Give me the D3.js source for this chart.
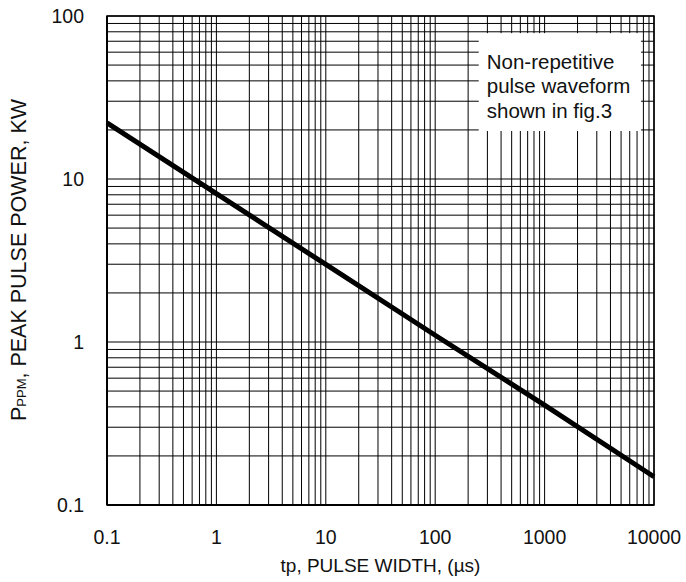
<!DOCTYPE html>
<html>
<head>
<meta charset="utf-8">
<script src="https://cdn.jsdelivr.net/npm/d3@7"></script>
<style>
  body { margin: 0; background: #fff; }
  text { font-family: "Liberation Sans", Arial, sans-serif; fill: #111; }
</style>
</head>
<body>
<svg width="686" height="582"></svg>
<script>
// Pulse width (us) vs peak pulse power (kW)
const pulseWidth = [0.1, 1, 10, 100, 1000, 10000];
const peakPower = [22.1, 8.13, 2.99, 1.10, 0.41, 0.149];

// Tick labels
const xTicks = [0.1, 1, 10, 100, 1000, 10000];
const xTickLabels = ["0.1", "1", "10", "100", "1000", "10000"];
const yTicks = [0.1, 1, 10, 100];
const yTickLabels = ["0.1", "1", "10", "100"];

const noteLines = ["Non-repetitive", "pulse waveform", "shown in fig.3"];

const svg = d3.select("svg");
const margin = { top: 16, right: 32, bottom: 77, left: 107 };
const width = 686 - margin.left - margin.right;
const height = 582 - margin.top - margin.bottom;

const g = svg.append("g").attr("transform", `translate(${margin.left},${margin.top})`);

const x = d3.scaleLog().domain([0.1, 10000]).range([0, width]);
const y = d3.scaleLog().domain([0.1, 100]).range([height, 0]);

// minor + major grid values: 1..9 per decade
function decadeGrid(lo, hi) {
    const vals = [];
    for (let e = lo; e < hi; e++) {
        for (let k = 1; k <= 9; k++) vals.push(k * Math.pow(10, e));
    }
    vals.push(Math.pow(10, hi));
    return vals;
}
const xGrid = decadeGrid(-1, 4);
const yGrid = decadeGrid(-1, 2);

g.selectAll("line.grid-x")
    .data(xGrid)
    .enter().append("line")
    .attr("class", "grid-x")
    .attr("x1", d => x(d)).attr("x2", d => x(d))
    .attr("y1", 0).attr("y2", height)
    .attr("stroke", "#000").attr("stroke-width", 1);

g.selectAll("line.grid-y")
    .data(yGrid)
    .enter().append("line")
    .attr("class", "grid-y")
    .attr("x1", 0).attr("x2", width)
    .attr("y1", d => y(d)).attr("y2", d => y(d))
    .attr("stroke", "#000").attr("stroke-width", 1);

// Annotation box blanks out the grid behind it
const noteX0 = 250, noteX1 = 7600, noteY0 = 78.5, noteY1 = 19.7;
g.append("rect")
    .attr("x", x(noteX0))
    .attr("y", y(noteY0))
    .attr("width", x(noteX1) - x(noteX0))
    .attr("height", y(noteY1) - y(noteY0))
    .attr("fill", "#fff");

g.selectAll("text.note")
    .data(noteLines)
    .enter().append("text")
    .attr("class", "note")
    .attr("x", x(noteX0) + 8)
    .attr("y", (d, i) => 52.5 + i * 24.5)
    .attr("font-size", "20.5px")
    .text(d => d);

// Frame
g.append("rect")
    .attr("x", 0).attr("y", 0)
    .attr("width", width).attr("height", height)
    .attr("fill", "none")
    .attr("stroke", "#000").attr("stroke-width", 1.5);
g.append("line")
    .attr("x1", 0).attr("x2", 0).attr("y1", 0).attr("y2", height)
    .attr("stroke", "#000").attr("stroke-width", 2);
g.append("line")
    .attr("x1", 0).attr("x2", width).attr("y1", height).attr("y2", height)
    .attr("stroke", "#000").attr("stroke-width", 2);

// Curve
const line = d3.line()
    .x((d, i) => x(pulseWidth[i]))
    .y(d => y(d));

g.append("path")
    .datum(peakPower)
    .attr("fill", "none")
    .attr("stroke", "#000")
    .attr("stroke-width", 5)
    .attr("d", line);

// Tick labels
g.selectAll("text.xtick")
    .data(xTicks)
    .enter().append("text")
    .attr("class", "xtick")
    .attr("x", d => x(d))
    .attr("y", height + 39)
    .attr("text-anchor", "middle")
    .attr("font-size", "19.5px")
    .text((d, i) => xTickLabels[i]);

g.selectAll("text.ytick")
    .data(yTicks)
    .enter().append("text")
    .attr("class", "ytick")
    .attr("x", -23)
    .attr("y", d => y(d))
    .attr("dy", "0.36em")
    .attr("text-anchor", "end")
    .attr("font-size", "19.5px")
    .text((d, i) => yTickLabels[i]);

// Axis titles
svg.append("text")
    .attr("x", margin.left + width / 2)
    .attr("y", 572)
    .attr("text-anchor", "middle")
    .attr("font-size", "19px")
    .text("tp, PULSE WIDTH, (\u00b5s)");

const yTitle = svg.append("text")
    .attr("transform", "translate(25.5,260) rotate(-90)")
    .attr("text-anchor", "middle")
    .attr("font-size", "21.5px");
yTitle.append("tspan").text("P");
yTitle.append("tspan").attr("font-size", "13px").text("PPM");
yTitle.append("tspan").text(", PEAK PULSE POWER, KW");
</script>
</body>
</html>
